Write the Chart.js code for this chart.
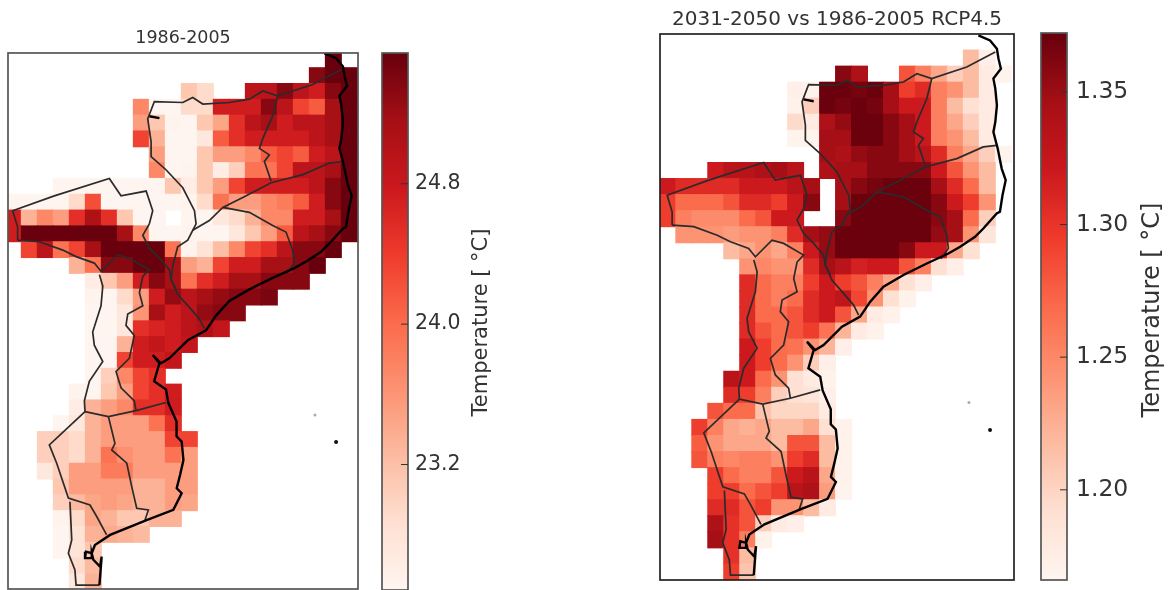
<!DOCTYPE html>
<html lang="en">
<head>
<meta charset="UTF-8">
<title>Temperature maps</title>
<style>
    html, body { margin: 0; padding: 0; background: #fff; overflow: hidden; }
    body { width: 1171px; height: 590px; position: relative; }
    canvas { position: absolute; filter: blur(0.7px); }
</style>
</head>
<body>
<canvas id="mapBase" style="left:6px;top:28px" width="354" height="563"></canvas>
<canvas id="barBase" style="left:380px;top:51px" width="128" height="541"></canvas>
<canvas id="mapChange" style="left:657.5px;top:6.5px" width="358" height="575.5"></canvas>
<canvas id="barChange" style="left:1039px;top:31px" width="130" height="551"></canvas>

<script src="https://cdn.jsdelivr.net/npm/chart.js"></script>
<script>
const N = null;

const baseTitle = '1986-2005';
const changeTitle = '2031-2050 vs 1986-2005 RCP4.5';
const barLabel = 'Temperature [ \u00B0C]';

const baseRange = [22.485, 25.545];
const changeRange = [1.166, 1.3722];
const baseTicks = [23.2, 24.0, 24.8];
const changeTicks = [1.20, 1.25, 1.30, 1.35];

// matplotlib Reds
const reds = ['#fff5f0', '#fee0d2', '#fcbba1', '#fc9272', '#fb6a4a', '#ef3b2c', '#cb181d', '#a50f15', '#67000d'];

// 1986-2005 mean, one row per grid line, north to south
const baseRows = [
    [N,N,N,N,N,N,N,N,N,N,N,N,N,N,N,N,N,N,N,N,25.54],
    [N,N,N,N,N,N,N,N,N,N,N,N,N,N,N,N,N,N,N,25.34,25.54,25.54],
    [N,N,N,N,N,N,N,N,N,N,N,23.13,22.92,N,N,24.94,24.94,25.34,24.94,24.74,25.34,25.54],
    [N,N,N,N,N,N,N,N,23.73,22.40,22.40,22.92,22.92,24.74,24.74,24.74,25.34,24.94,24.33,24.13,25.14,25.54],
    [N,N,N,N,N,N,N,N,23.53,23.13,22.52,22.44,23.13,23.45,24.53,24.94,25.14,24.74,24.94,24.94,25.14,25.54],
    [N,N,N,N,N,N,N,N,24.33,23.33,22.44,22.44,22.72,24.13,24.53,24.74,24.74,24.74,24.74,24.94,25.14,25.54],
    [N,N,N,N,N,N,N,N,N,23.53,22.44,22.44,23.13,23.53,23.53,23.73,24.13,24.33,24.13,24.74,24.94,25.54],
    [N,N,N,N,N,N,N,N,N,23.73,22.44,22.52,23.13,22.64,23.04,23.93,23.93,24.33,24.94,24.94,25.14,25.54],
    [N,N,N,22.40,22.40,22.40,22.40,22.40,22.36,22.36,23.13,22.64,23.13,23.53,24.33,24.74,24.74,24.74,24.74,24.94,25.34,25.54],
    [22.44,22.44,22.44,22.44,22.92,24.25,22.44,22.44,22.40,22.40,22.32,22.52,22.92,23.93,23.53,23.53,23.73,23.85,24.13,24.74,25.34,25.54],
    [24.74,23.33,23.73,23.53,24.53,25.06,24.53,23.13,22.40,22.32,N,22.40,22.44,22.72,22.92,23.33,23.73,23.73,24.74,24.74,25.14,25.54],
    [24.74,25.54,25.54,25.54,25.54,25.54,25.54,25.14,23.73,22.32,22.32,22.52,22.44,22.44,22.72,23.13,23.53,24.13,24.94,25.14,25.34,25.54],
    [N,24.33,24.94,23.93,24.33,25.14,25.54,25.54,25.54,25.54,23.93,22.52,22.80,23.21,23.73,24.33,24.53,24.94,25.34,25.34,25.54],
    [N,N,N,N,23.33,23.93,25.34,25.34,25.54,25.54,25.14,23.53,23.33,24.33,24.74,24.74,25.14,25.14,25.34,25.54],
    [N,N,N,N,N,22.64,23.13,23.53,24.74,25.34,25.14,23.93,24.53,24.74,25.14,25.14,25.34,25.34,25.34],
    [N,N,N,N,N,22.52,22.44,22.92,23.53,24.74,25.26,24.94,25.14,25.26,25.34,25.34,25.42],
    [N,N,N,N,N,22.44,22.40,22.72,23.61,25.14,24.74,24.94,25.26,25.34,25.34],
    [N,N,N,N,N,22.44,22.40,22.72,24.53,24.65,24.74,24.94,25.06,24.86],
    [N,N,N,N,N,22.40,22.40,23.33,24.74,24.86,24.74,24.86],
    [N,N,N,N,N,22.40,22.40,24.33,24.74,24.74,24.86],
    [N,N,N,N,N,22.40,23.04,23.73,24.33,24.53],
    [N,N,N,N,22.52,22.44,23.13,23.53,24.33,24.53,24.74],
    [N,N,N,N,22.64,23.33,23.53,23.73,24.53,24.53,24.74],
    [N,N,N,22.44,22.72,23.33,23.53,23.53,23.53,23.93,24.53],
    [N,N,23.04,23.04,22.92,23.33,23.53,23.53,23.53,23.53,24.33,24.33],
    [N,N,23.04,23.04,22.92,23.33,23.93,23.65,23.53,23.53,23.93,23.53],
    [N,N,22.72,23.04,23.53,23.53,23.85,23.85,23.53,23.53,23.53,23.53],
    [N,N,N,23.13,23.53,23.53,23.53,23.53,23.33,23.33,23.53,23.53],
    [N,N,N,23.04,23.25,23.45,23.53,23.45,23.33,23.33,23.53,23.45],
    [N,N,N,22.52,22.92,23.45,23.33,23.13,23.13,23.33,23.33],
    [N,N,N,22.44,22.80,23.33,23.41,23.33,23.25],
    [N,N,N,22.44,22.80,23.13],
    [N,N,N,N,22.92,23.25],
    [N,N,N,N,22.72,23.33]
];

// 2031-2050 minus 1986-2005
const changeRows = [
    [],
    [N,N,N,N,N,N,N,N,N,N,N,N,N,N,N,N,N,N,N,1.217,1.173],
    [N,N,N,N,N,N,N,N,N,N,N,1.359,1.340,N,N,1.281,1.255,1.230,1.204,1.217,1.178,1.168],
    [N,N,N,N,N,N,N,N,1.173,1.170,1.371,1.371,1.366,1.371,1.346,1.294,1.307,1.255,1.243,1.217,1.178],
    [N,N,N,N,N,N,N,N,1.170,1.204,1.371,1.366,1.371,1.366,1.346,1.320,1.320,1.255,1.217,1.191,1.178],
    [N,N,N,N,N,N,N,N,1.196,1.178,1.340,1.353,1.371,1.371,1.359,1.346,1.320,1.255,1.230,1.204,1.178],
    [N,N,N,N,N,N,N,N,1.168,1.168,1.346,1.346,1.371,1.371,1.359,1.346,1.320,1.255,1.243,1.217,1.178],
    [N,N,N,N,N,N,N,N,N,N,1.346,1.340,1.353,1.359,1.359,1.346,1.333,1.307,1.255,1.230,1.204,1.168],
    [N,N,N,1.320,1.333,1.333,1.340,1.346,1.333,N,1.340,1.346,1.346,1.359,1.359,1.359,1.359,1.320,1.281,1.243,1.217],
    [1.320,1.307,1.307,1.307,1.307,1.320,1.320,1.320,1.333,1.346,N,1.346,1.359,1.366,1.371,1.371,1.371,1.346,1.307,1.268,1.217],
    [1.294,1.268,1.268,1.268,1.281,1.307,1.307,1.294,1.320,1.359,N,1.346,1.371,1.371,1.371,1.371,1.371,1.359,1.320,1.294,1.243],
    [1.294,1.255,1.248,1.248,1.248,1.268,1.281,1.320,1.320,N,N,1.359,1.371,1.371,1.371,1.371,1.371,1.359,1.346,1.268,1.204],
    [N,1.243,1.243,1.243,1.237,1.243,1.243,1.255,1.307,1.346,1.353,1.371,1.371,1.371,1.371,1.371,1.371,1.353,1.346,1.243,1.186],
    [N,N,N,N,1.217,1.230,1.243,1.230,1.255,1.320,1.353,1.371,1.371,1.371,1.371,1.359,1.320,1.320,1.230,1.191],
    [N,N,N,N,N,1.243,1.250,1.243,1.243,1.307,1.346,1.333,1.315,1.320,1.320,1.281,1.255,1.191,1.173],
    [N,N,N,N,N,1.307,1.268,1.255,1.255,1.294,1.320,1.294,1.281,1.255,1.230,1.191,1.173],
    [N,N,N,N,N,1.307,1.268,1.255,1.268,1.307,1.320,1.328,1.289,1.243,1.191,1.170],
    [N,N,N,N,N,1.307,1.268,1.268,1.281,1.307,1.320,1.281,1.230,1.178,1.170],
    [N,N,N,N,N,1.307,1.281,1.268,1.281,1.294,1.263,1.222,1.178,1.170],
    [N,N,N,N,N,1.320,1.294,1.268,1.263,1.243,1.222,1.173],
    [N,N,N,N,N,1.320,1.294,1.268,1.243,1.204,1.173],
    [N,N,N,N,1.333,1.320,1.268,1.243,1.191,1.178,1.170],
    [N,N,N,N,1.307,1.294,1.255,1.204,1.191,1.186,1.173],
    [N,N,N,1.281,1.268,1.268,1.211,1.199,1.199,1.199,1.178],
    [N,N,1.294,1.255,1.230,1.224,1.230,1.217,1.217,1.230,1.191,1.170],
    [N,N,1.276,1.243,1.230,1.230,1.230,1.217,1.281,1.281,1.217,1.170],
    [N,N,1.281,1.255,1.250,1.255,1.255,1.243,1.294,1.307,1.217,1.170],
    [N,N,N,1.294,1.268,1.255,1.255,1.281,1.320,1.333,1.230,1.170],
    [N,N,N,1.294,1.294,1.268,1.281,1.294,1.333,1.340,1.237,1.168],
    [N,N,N,1.307,1.307,1.281,1.294,1.243,1.243,1.217,1.178],
    [N,N,N,1.340,1.302,1.281,1.204,1.178,1.173],
    [N,N,N,1.346,1.302,1.255,1.170],
    [N,N,N,N,1.302,1.217],
    [N,N,N,N,1.294,1.211]
];

// outlines in grid units [column, row], same for both maps
const coastLine = [[19.94,0.09],[20.67,0.40],[21.1,0.92],[21.2,1.54],[21.35,2.16],[20.88,2.78],[21.0,3.4],[21.1,4.44],[21.0,5.48],[20.88,6.1],[21.15,7.13],[21.4,8.38],[21.65,9.1],[21.45,10.04],[21.29,11.07],[21.09,11.18],[20.25,12.11],[19.73,12.63],[18.8,13.25],[18.06,13.67],[16.71,14.29],[15.25,15.01],[14.0,15.74],[13.17,16.67],[12.54,17.6],[11.4,18.23],[10.25,19.37],[9.73,19.68],[9.21,19.16],[9.63,19.68],[9.3,20.82],[10.04,21.34],[10.19,22.2],[10.7,23.37],[10.7,24.3],[11.02,24.63],[11.13,25.8],[10.92,26.74],[10.71,27.58],[11.02,27.9],[10.5,28.95],[8.83,29.59],[6.55,30.53],[5.6,31.17],[5.4,31.69],[5.04,31.59],[4.98,32.0],[5.4,32.0],[5.4,31.69],[5.5,32.1],[5.92,32.54],[6.02,31.9],[5.88,33.7]];
const northBorder = [[21.0,1.12],[19.21,2.06],[17.02,2.78],[16.09,2.47],[15.25,2.99],[14.0,3.2],[12.34,3.3],[11.71,2.89],[11.09,3.2],[9.31,3.15],[8.9,4.23],[9.11,5.68],[9.11,6.62],[10.04,7.45],[11.09,8.59],[11.82,10.04],[11.92,10.87],[11.4,11.9],[10.77,12.32],[10.46,13.56],[10.36,14.39],[10.67,15]];
const innerNorth = [[17.02,2.78],[16.71,4.03],[16.09,5.48],[15.88,6.1],[16.5,6.51],[16.19,6.93],[16.61,8.17]];
const innerEast = [[21.09,6.93],[20.25,7.03],[18.59,7.76],[16.61,8.27],[14.84,9.21],[13.59,9.83],[12.75,10.66],[11.71,11.28]];
const innerSouth = [[13.59,9.83],[15.25,10.14],[16.71,10.97],[17.54,11.39],[17.96,12.53],[18.06,13.35],[17.6,14.0]];
const malawiLine = [[9.0,10.87],[8.59,11.59],[9.0,12.42],[9.63,13.04],[10.25,13.77],[10.36,14.39],[10.77,15.32],[11.5,16.15],[12.13,16.88],[12.44,17.5]];
const westLoop = [[0.77,11.9],[0.77,11.07],[0.46,10.04],[3.06,9.1],[6.5,8.0],[7.23,9.1],[8.8,8.8],[9.21,10.04],[9.0,10.87]];
const westSouth = [[0.77,11.9],[2.13,12.0],[3.59,12.53],[4.42,12.94],[5.56,13.35],[5.98,13.87],[7.02,12.84],[7.75,13.04],[9.0,13.77],[8.59,14.2],[8.38,15.22],[8.59,16.05],[7.65,16.57],[7.54,17.29],[8.06,17.92],[7.75,19.37],[6.92,20.2],[7.23,21.23],[8.06,22.06],[8.17,22.68]];
const midLine = [[5.88,14.08],[6.09,14.81],[5.98,16.05],[5.46,17.71],[5.56,18.54],[6.09,19.57],[5.25,20.82],[4.94,22.06],[4.98,22.74],[2.75,24.84],[3.21,26],[3.94,28.2],[5.29,28.64],[5.71,29.37],[6.33,30.53]];
const southCross = [[4.98,22.74],[6.44,23.05],[8.17,22.68],[10.04,22.16]];
const southInner = [[6.44,23.05],[6.85,24.74],[6.65,25.16],[7.59,26],[7.9,27.48],[8.21,28.85],[8.94,28.95],[8.73,29.59]];
const southWest = [[4.04,28.43],[4.15,30.85],[3.94,31.69],[4.35,32.75],[4.42,33.7],[5.88,33.7]];
const lakeMark = [[9.0,4.07],[9.63,4.19]];
const thinLines = [northBorder, innerNorth, innerEast, innerSouth, malawiLine, westLoop, westSouth, midLine, southCross, southInner, southWest];
const palePoint = [[19.35,22.95]];
const darkPoint = [[20.67,24.66]];

function hexRgb(h) {
    return [1, 3, 5].map(i => parseInt(h.substr(i, 2), 16));
}

function colorFor(v, range) {
    const t = Math.min(1, Math.max(0, (v - range[0]) / (range[1] - range[0]))) * (reds.length - 1);
    const i = Math.min(reds.length - 2, Math.floor(t));
    const a = hexRgb(reds[i]), b = hexRgb(reds[i + 1]);
    const c = a.map((x, k) => Math.round(x + (b[k] - x) * (t - i)));
    return `rgb(${c[0]},${c[1]},${c[2]})`;
}

function pts(list) {
    return list.map(p => ({ x: p[0], y: p[1] }));
}

// box round the plot area
const framePlugin = {
    id: 'frame',
    afterDraw(chart, args, opts) {
        const a = chart.chartArea, ctx = chart.ctx;
        ctx.save();
        ctx.strokeStyle = opts.color;
        ctx.lineWidth = opts.width;
        ctx.strokeRect(a.left, a.top, a.right - a.left, a.bottom - a.top);
        ctx.restore();
    }
};

// inward tick marks and the rotated label of the colour bars
const barExtras = {
    id: 'barExtras',
    afterDraw(chart, args, opts) {
        const a = chart.chartArea, ctx = chart.ctx, y = chart.scales.y;
        ctx.save();
        ctx.strokeStyle = '#333';
        ctx.lineWidth = 1;
        opts.ticks.forEach(t => {
            const p = y.getPixelForValue(t);
            ctx.beginPath();
            ctx.moveTo(a.right - 7, p);
            ctx.lineTo(a.right, p);
            ctx.stroke();
        });
        ctx.translate(a.right + opts.labelGap, (a.top + a.bottom) / 2 + opts.labelShift);
        ctx.rotate(-Math.PI / 2);
        ctx.font = `${opts.labelSize}px "DejaVu Sans"`;
        ctx.fillStyle = '#333';
        ctx.textAlign = 'center';
        ctx.textBaseline = 'middle';
        ctx.fillText(barLabel, 0, 0);
        ctx.restore();
    }
};

function drawMap(id, rows, range, title, xRange, yRange, titleSize, titleGap, frameColor) {
    const cells = [];
    rows.forEach((row, r) => row.forEach((v, c) => {
        if (v !== null) cells.push({ x: c + 0.5, y: [r, r + 1], v: v });
    }));
    const lines = thinLines.map(l => ({
        type: 'scatter', data: pts(l), showLine: true, borderColor: '#2b2b2b', borderWidth: 1.7, pointRadius: 0, order: 1
    }));
    new Chart(document.getElementById(id), {
        type: 'bar',
        data: {
            datasets: [
                {
                    data: cells,
                    backgroundColor: cells.map(c => colorFor(c.v, range)),
                    barPercentage: 1,
                    categoryPercentage: 1,
                    borderWidth: 0,
                    inflateAmount: 0.5,
                    order: 2
                },
                ...lines,
                { type: 'scatter', data: pts(coastLine), showLine: true, borderColor: '#000', borderWidth: 2.4, pointRadius: 0, order: 0 },
                { type: 'scatter', data: pts(lakeMark), showLine: true, borderColor: '#000', borderWidth: 2.4, pointRadius: 0, order: 0 },
                { type: 'scatter', data: pts(palePoint), pointRadius: 1.5, pointBackgroundColor: '#aaa', pointBorderWidth: 0, order: 0 },
                { type: 'scatter', data: pts(darkPoint), pointRadius: 2, pointBackgroundColor: '#111', pointBorderWidth: 0, order: 0 }
            ]
        },
        options: {
            responsive: false,
            animation: false,
            layout: { autoPadding: false, padding: { left: 2, right: 2, bottom: 2, top: 0 } },
            scales: {
                x: { type: 'linear', display: false, offset: false, min: xRange[0], max: xRange[1] },
                y: { type: 'linear', display: false, reverse: true, min: yRange[0], max: yRange[1] }
            },
            plugins: {
                legend: { display: false },
                tooltip: { enabled: false },
                title: {
                    display: true,
                    text: title,
                    color: '#333',
                    padding: { top: 0, bottom: titleGap },
                    font: { family: '"DejaVu Sans"', size: titleSize, weight: 'normal', lineHeight: 1.25 }
                },
                frame: { color: frameColor, width: 1.7 }
            }
        },
        plugins: [framePlugin]
    });
}

function drawBar(id, range, ticks, tickSize, tickPad, axisWidth, labelSize, labelGap, labelShift, decimals) {
    new Chart(document.getElementById(id), {
        type: 'bar',
        data: {
            labels: [''],
            datasets: [{
                data: [range],
                barPercentage: 1,
                categoryPercentage: 1,
                borderWidth: 0,
                backgroundColor(ctx) {
                    const a = ctx.chart.chartArea;
                    if (!a) return reds[4];
                    const g = ctx.chart.ctx.createLinearGradient(0, a.bottom, 0, a.top);
                    reds.forEach((c, i) => g.addColorStop(i / (reds.length - 1), c));
                    return g;
                }
            }]
        },
        options: {
            responsive: false,
            animation: false,
            layout: { autoPadding: false, padding: { left: 2, top: 2, bottom: 2, right: 0 } },
            scales: {
                x: { display: false },
                y: {
                    position: 'right',
                    min: range[0],
                    max: range[1],
                    grid: { display: false, drawTicks: false },
                    border: { display: false },
                    afterBuildTicks(s) { s.ticks = ticks.map(v => ({ value: v })); },
                    afterFit(s) { s.width = axisWidth; s.paddingTop = 0; s.paddingBottom = 0; },
                    ticks: {
                        color: '#333',
                        padding: tickPad,
                        font: { family: '"DejaVu Sans"', size: tickSize },
                        callback: v => v.toFixed(decimals)
                    }
                }
            },
            plugins: {
                legend: { display: false },
                tooltip: { enabled: false },
                frame: { color: '#555', width: 1.7 },
                barExtras: { ticks: ticks, labelSize: labelSize, labelGap: labelGap, labelShift: labelShift }
            }
        },
        plugins: [framePlugin, barExtras]
    });
}

drawMap('mapBase', baseRows, baseRange, baseTitle, [0.167, 22.04], [0.07, 33.95], 17.5, 3.1, '#555');
drawMap('mapChange', changeRows, changeRange, changeTitle, [0.01, 22.17], [0, 34], 20, 2, '#222');
drawBar('barBase', baseRange, baseTicks, 20.5, 7, 100, 21, 74, 1, 1);
drawBar('barChange', changeRange, changeTicks, 23.5, 9, 102, 24, 86, 3.5, 2);
</script>
</body>
</html>
